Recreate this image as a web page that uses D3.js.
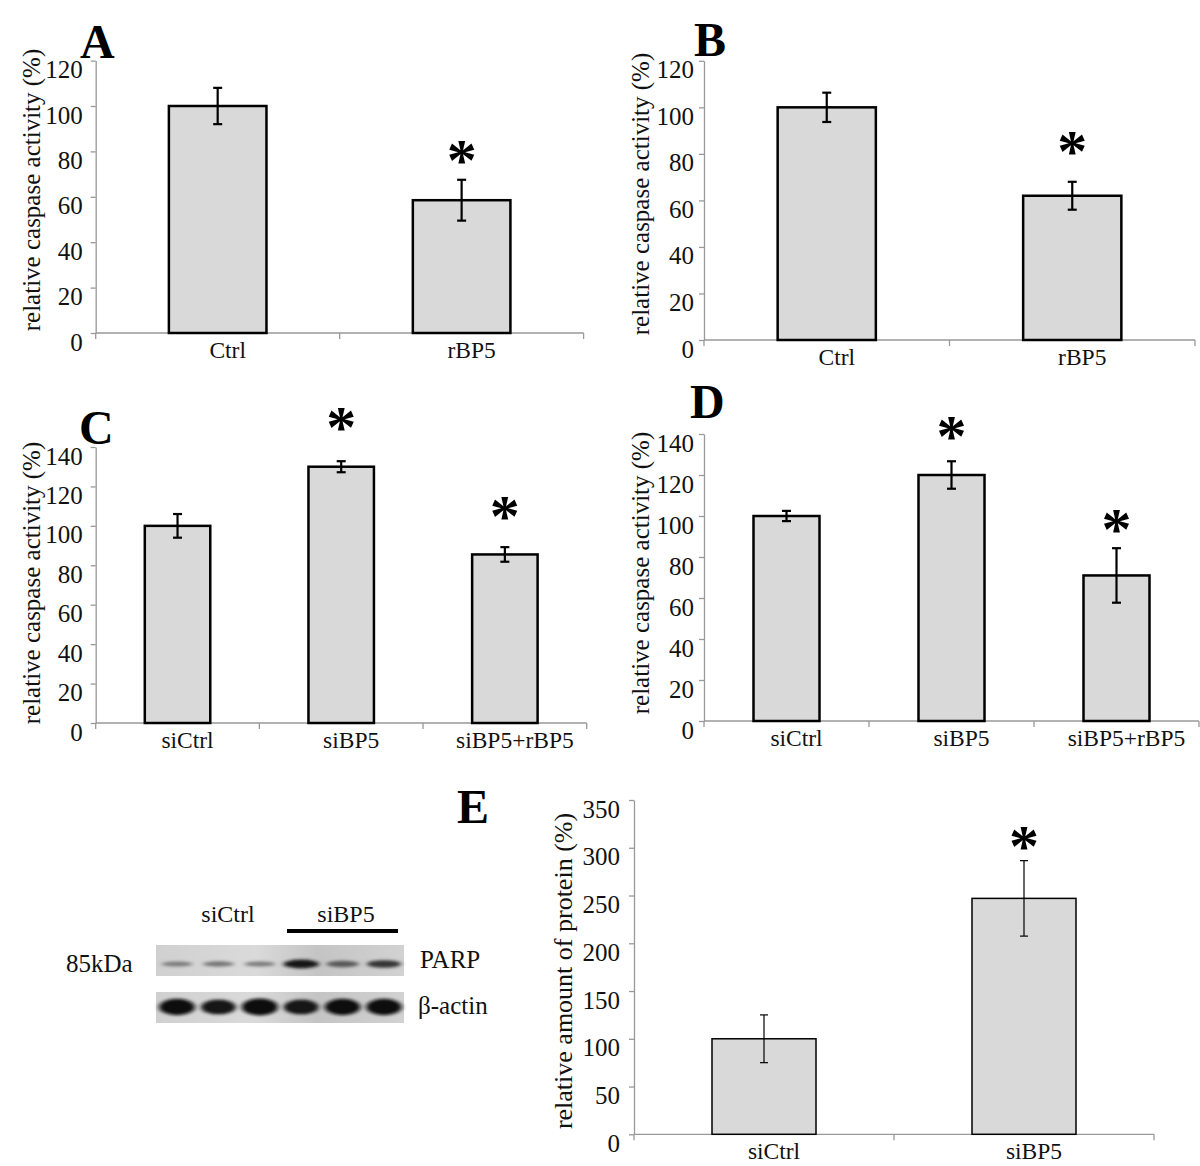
<!DOCTYPE html>
<html>
<head>
<meta charset="utf-8">
<script src="https://cdn.jsdelivr.net/npm/d3@7"></script>
<style>
body { margin: 0; background: #fff; }
text { font-family: "Liberation Serif", "Times New Roman", serif; }
</style>
</head>
<body>
<svg id="fig" width="1200" height="1166"></svg>
<script>
// valores
const catsAB = ["Ctrl", "rBP5"];
const valsA = [100, 58.5];
const errA = [8, 9];
const starA = [null, 80];

const valsB = [100, 62];
const errB = [6.3, 6];
const starB = [null, 85];

const catsCD = ["siCtrl", "siBP5", "siBP5+rBP5"];
const valsC = [100, 130, 85.5];
const errC = [6, 2.8, 3.7];
const starC = [null, 154.5, 109.5];

const valsD = [100, 120, 71];
const errD = [2.5, 6.7, 13.3];
const starD = [null, 143.5, 98];

const catsE = ["siCtrl", "siBP5"];
const valsE = [100, 247];
const errE = [25, 39.5];
const starE = [null, 311.5];

const ticksAB = [0, 20, 40, 60, 80, 100, 120];
const ticksCD = [0, 20, 40, 60, 80, 100, 120, 140];
const ticksE = [0, 50, 100, 150, 200, 250, 300, 350];

// western blot: 6 pistas, intensidade relativa das bandas
const blotLanes = ["1", "2", "3", "4", "5", "6"];
const blotGroups = ["siCtrl", "siBP5"];
const parpBand = [0.2, 0.25, 0.2, 0.95, 0.45, 0.7];
const actinBand = [0.95, 0.8, 1.0, 0.8, 0.92, 0.92];

const svg = d3.select("#fig");
const serif = '"Liberation Serif", "Times New Roman", serif';

function drawPanel(p) {
    const y = d3.scaleLinear().domain([0, p.max]).range([p.y0, p.yTop]);
    const x = d3.scaleBand().domain(p.cats).range([p.x0, p.x1])
        .paddingInner(0.6).paddingOuter(0.3);
    const g = svg.append("g");

    // eixo y
    const ya = g.append("g")
        .attr("transform", `translate(${p.x0},0)`)
        .call(d3.axisLeft(y).tickValues(p.ticks).tickSize(5).tickSizeOuter(0).tickPadding(p.pad));
    ya.attr("font-family", serif).attr("font-size", 25);
    ya.select(".domain").attr("stroke", "#999").attr("stroke-width", 1.3);
    ya.selectAll(".tick line").attr("stroke", "#999").attr("stroke-width", 1.3);
    ya.selectAll(".tick text").attr("fill", "#111").attr("transform", "translate(0,9)");

    // eixo x (linha + marcas entre categorias)
    g.append("line")
        .attr("x1", p.x0).attr("x2", p.x1)
        .attr("y1", p.y0).attr("y2", p.y0)
        .attr("stroke", "#999").attr("stroke-width", 1.3);
    const bordas = d3.range(p.cats.length + 1).map(i => p.x0 + i * x.step());
    g.selectAll(".xt").data(bordas).join("line")
        .attr("x1", d => d).attr("x2", d => d)
        .attr("y1", p.y0).attr("y2", p.y0 + 6)
        .attr("stroke", "#999").attr("stroke-width", 1.3);

    g.selectAll(".cat").data(p.cats).join("text")
        .attr("x", d => x(d) + x.bandwidth() / 2 + 10)
        .attr("y", p.y0 + 25)
        .attr("text-anchor", "middle")
        .attr("font-size", 23.5)
        .attr("fill", "#111")
        .text(d => d);

    // barras
    g.selectAll(".bar").data(p.vals).join("rect")
        .attr("x", (d, i) => x(p.cats[i]))
        .attr("width", x.bandwidth())
        .attr("y", d => y(d))
        .attr("height", d => p.y0 - y(d))
        .attr("fill", "#d9d9d9")
        .attr("stroke", "#000")
        .attr("stroke-width", p.bw);

    // barras de erro
    const cx = i => x(p.cats[i]) + x.bandwidth() / 2;
    const eg = g.selectAll(".err").data(p.vals).join("g")
        .attr("stroke", "#000").attr("stroke-width", p.ew);
    eg.append("line")
        .attr("x1", (d, i) => cx(i)).attr("x2", (d, i) => cx(i))
        .attr("y1", (d, i) => y(d + p.errs[i])).attr("y2", (d, i) => y(d - p.errs[i]));
    eg.append("line")
        .attr("x1", (d, i) => cx(i) - p.cap).attr("x2", (d, i) => cx(i) + p.cap)
        .attr("y1", (d, i) => y(d + p.errs[i])).attr("y2", (d, i) => y(d + p.errs[i]));
    eg.append("line")
        .attr("x1", (d, i) => cx(i) - p.cap).attr("x2", (d, i) => cx(i) + p.cap)
        .attr("y1", (d, i) => y(d - p.errs[i])).attr("y2", (d, i) => y(d - p.errs[i]));

    // asteriscos de significância
    const estrelas = p.stars.map((s, i) => ({ s, i })).filter(d => d.s !== null);
    g.selectAll(".star").data(estrelas).join("text")
        .attr("x", d => cx(d.i))
        .attr("y", d => y(d.s) + 29)
        .attr("text-anchor", "middle")
        .attr("font-size", 60)
        .attr("font-weight", "bold")
        .text("*");

    // título do eixo y
    g.append("text")
        .attr("transform", `translate(${p.labX},${p.labY}) rotate(-90)`)
        .attr("text-anchor", "middle")
        .attr("dominant-baseline", "central")
        .attr("font-size", p.labSize)
        .attr("fill", "#111")
        .text(p.label);

    // letra do painel
    g.append("text")
        .attr("x", p.letX).attr("y", p.letY)
        .attr("font-size", 48)
        .attr("font-weight", "bold")
        .text(p.letter);
}

const lblCasp = "relative caspase activity (%)";

drawPanel({ letter: "A", letX: 80, letY: 58, cats: catsAB, vals: valsA, errs: errA, stars: starA,
    ticks: ticksAB, max: 120, x0: 95.7, x1: 583.6, y0: 333, yTop: 60.6, pad: 8,
    bw: 2.5, ew: 2.2, cap: 4.5, label: lblCasp, labX: 31, labY: 190, labSize: 25 });

drawPanel({ letter: "B", letX: 694, letY: 56, cats: catsAB, vals: valsB, errs: errB, stars: starB,
    ticks: ticksAB, max: 120, x0: 704, x1: 1195, y0: 340, yTop: 60.8, pad: 5,
    bw: 2.5, ew: 2.2, cap: 4.5, label: lblCasp, labX: 640, labY: 194, labSize: 25 });

drawPanel({ letter: "C", letX: 79, letY: 444, cats: catsCD, vals: valsC, errs: errC, stars: starC,
    ticks: ticksCD, max: 140, x0: 95.7, x1: 586.7, y0: 723, yTop: 447, pad: 8,
    bw: 2.5, ew: 2.2, cap: 4.5, label: lblCasp, labX: 31, labY: 583, labSize: 25 });

drawPanel({ letter: "D", letX: 690, letY: 418, cats: catsCD, vals: valsD, errs: errD, stars: starD,
    ticks: ticksCD, max: 140, x0: 704, x1: 1199, y0: 721, yTop: 434, pad: 5,
    bw: 2.5, ew: 2.2, cap: 4.5, label: lblCasp, labX: 640, labY: 573, labSize: 25 });

drawPanel({ letter: "E", letX: 457, letY: 823, cats: catsE, vals: valsE, errs: errE, stars: starE,
    ticks: ticksE, max: 350, x0: 634, x1: 1154, y0: 1134.3, yTop: 800, pad: 9,
    bw: 1.5, ew: 1.2, cap: 4, label: "relative amount of protein (%)", labX: 563, labY: 971, labSize: 26 });

// ---- western blot ----
const defs = svg.append("defs");
defs.append("filter").attr("id", "blur").attr("x", "-30%").attr("y", "-100%")
    .attr("width", "160%").attr("height", "300%")
    .append("feGaussianBlur").attr("stdDeviation", "2.4 1.8");
defs.append("filter").attr("id", "blur2").attr("x", "-50%").attr("y", "-50%")
    .attr("width", "200%").attr("height", "200%")
    .append("feGaussianBlur").attr("stdDeviation", 5);
const grad = defs.append("linearGradient").attr("id", "fundo");
grad.append("stop").attr("offset", "0%").attr("stop-color", "#d0d0d0");
grad.append("stop").attr("offset", "40%").attr("stop-color", "#dadada");
grad.append("stop").attr("offset", "65%").attr("stop-color", "#c4c4c4");
grad.append("stop").attr("offset", "100%").attr("stop-color", "#d2d2d2");

const lane = d3.scaleBand().domain(blotLanes).range([158, 403]).paddingInner(0.16).paddingOuter(0.04);
const blot = svg.append("g");

function drawStrip(y0, h, vals, bandH, bandY, minGrey) {
    blot.append("rect").attr("x", 156).attr("y", y0).attr("width", 248).attr("height", h)
        .attr("fill", "url(#fundo)");
    const dark = d3.scaleLinear().domain([0, 1]).range([minGrey, 12]);
    blot.selectAll(null).data(vals).join("ellipse")
        .attr("cx", (d, i) => lane(blotLanes[i]) + lane.bandwidth() / 2)
        .attr("cy", bandY)
        .attr("rx", d => lane.bandwidth() * (0.42 + 0.1 * d))
        .attr("ry", d => bandH * (0.45 + 0.55 * d))
        .attr("fill", d => d3.rgb(dark(d), dark(d), dark(d)))
        .attr("filter", "url(#blur)");
}

drawStrip(945, 31, parpBand, 4.5, 964, 150);
drawStrip(992, 31, actinBand, 8.5, 1007, 60);

blot.append("text").attr("x", 228).attr("y", 922).attr("text-anchor", "middle")
    .attr("font-size", 24).attr("fill", "#111").text(blotGroups[0]);
blot.append("text").attr("x", 346).attr("y", 922).attr("text-anchor", "middle")
    .attr("font-size", 24).attr("fill", "#111").text(blotGroups[1]);
blot.append("line").attr("x1", 287).attr("x2", 398).attr("y1", 931).attr("y2", 931)
    .attr("stroke", "#000").attr("stroke-width", 4);
blot.append("text").attr("x", 420).attr("y", 968).attr("font-size", 25).attr("fill", "#111").text("PARP");
blot.append("text").attr("x", 418).attr("y", 1014).attr("font-size", 25).attr("fill", "#111").text("β-actin");
blot.append("text").attr("x", 66).attr("y", 972).attr("font-size", 25).attr("fill", "#111").text("85kDa");
</script>
</body>
</html>
